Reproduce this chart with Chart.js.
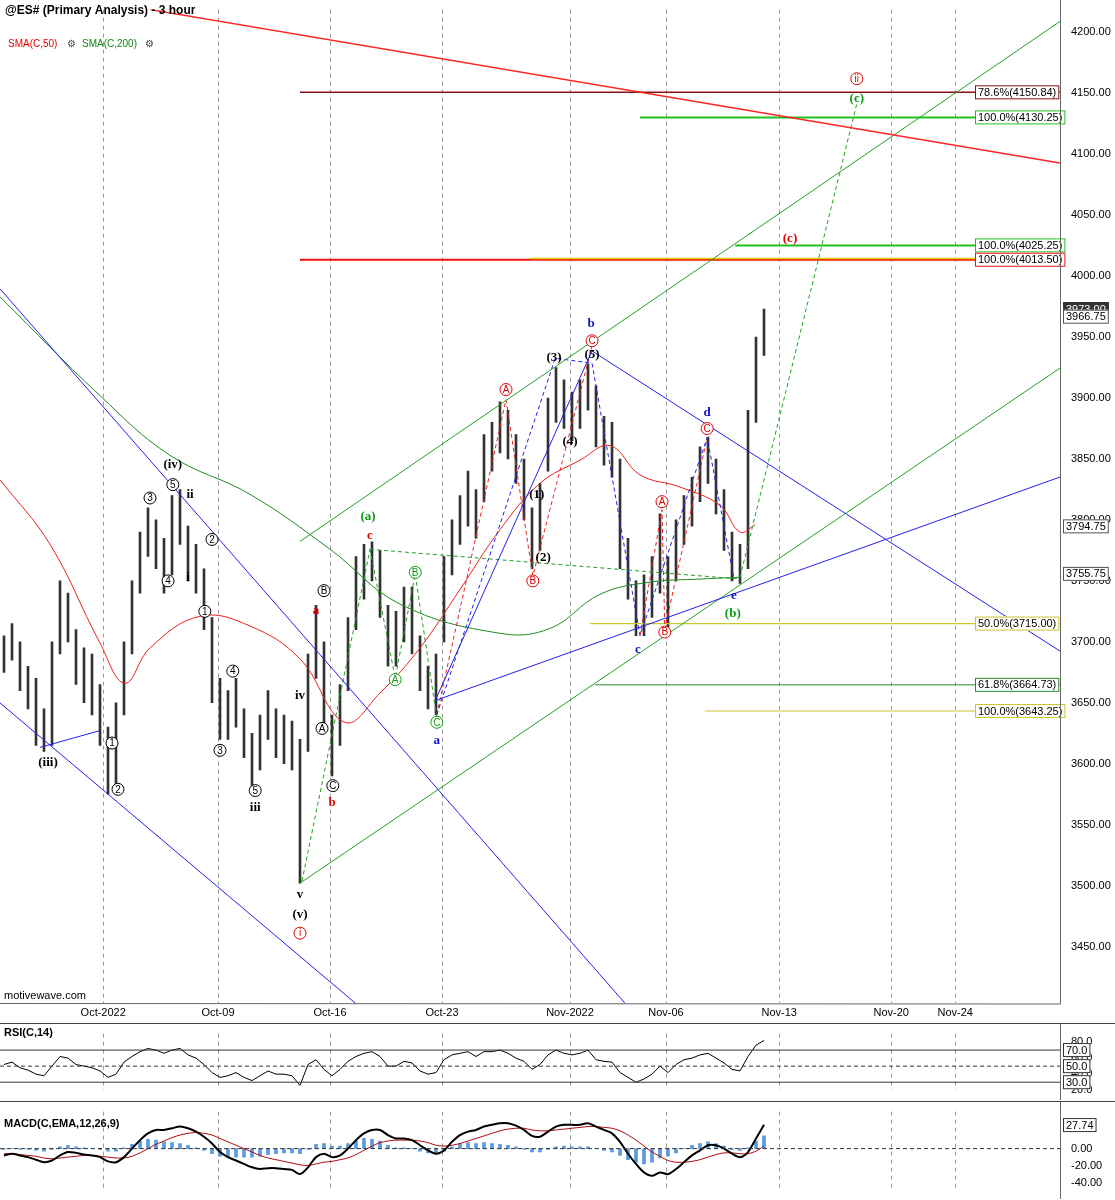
<!DOCTYPE html>
<html><head><meta charset="utf-8">
<script src="https://cdn.jsdelivr.net/npm/chart.js@4"></script>
<style>
body{margin:0;background:#fff;width:1115px;height:1200px;overflow:hidden;font-family:"Liberation Sans",Arial,sans-serif}
canvas{position:absolute;left:0}
.sep{position:absolute;left:0;width:1115px;height:1px;background:#444}
</style></head><body>
<canvas id="main" width="1115" height="1022" style="top:0"></canvas>
<div class="sep" style="top:1023px"></div>
<canvas id="rsi" width="1115" height="76" style="top:1024px"></canvas>
<div class="sep" style="top:1101px"></div>
<canvas id="macd" width="1115" height="97" style="top:1102px"></canvas>
<script>
// ---------- DATA ----------
const highs=[3705,3715,3700,3680,3670,3645,3700,3750,3740,3710,3695,3690,3665,3630,3650,3700,3750,3790,3810,3800,3785,3820,3825,3795,3780,3760,3720,3670,3660,3670,3645,3625,3640,3660,3645,3640,3635,3620,3690,3730,3700,3640,3665,3720,3770,3780,3782,3775,3730,3725,3745,3745,3705,3680,3690,3770,3800,3820,3840,3825,3870,3880,3897,3890,3870,3850,3810,3830,3900,3925,3915,3905,3915,3928,3910,3885,3880,3850,3785,3750,3755,3770,3805,3770,3800,3820,3835,3860,3868,3850,3825,3790,3780,3890,3950,3973];
const lows=[3675,3685,3660,3645,3615,3610,3615,3690,3700,3665,3650,3640,3615,3575,3575,3640,3690,3740,3770,3760,3740,3755,3780,3750,3740,3710,3650,3620,3620,3630,3605,3580,3595,3620,3605,3600,3595,3502,3610,3670,3630,3590,3615,3660,3710,3735,3750,3720,3680,3680,3700,3690,3660,3645,3640,3700,3755,3780,3795,3785,3815,3840,3855,3850,3830,3800,3760,3775,3840,3880,3875,3865,3875,3890,3860,3845,3835,3760,3735,3705,3705,3720,3740,3712,3750,3780,3795,3815,3830,3805,3775,3750,3748,3760,3880,3935];
const rsi=[52,55,48,45,40,38,50,62,60,52,50,48,44,36,40,55,62,68,72,70,66,70,72,64,60,52,42,36,38,42,36,32,38,44,40,40,38,26,52,58,46,38,46,56,62,66,68,62,50,50,56,54,44,40,42,58,64,66,68,62,68,68,70,66,60,56,46,52,64,70,66,64,66,70,58,56,55,42,36,30,34,40,50,42,52,58,60,64,66,60,54,46,44,62,76,82];
const macdLine=[-8,-6,-8,-10,-13,-16,-14,-8,-4,-5,-7,-8,-10,-15,-16,-10,0,10,18,22,22,24,26,24,20,14,6,-4,-10,-14,-18,-22,-24,-23,-23,-24,-25,-30,-22,-10,-6,-10,-8,0,10,18,22,22,16,12,12,10,4,-2,-6,-2,8,16,20,22,26,28,30,30,27,22,15,14,20,26,28,28,28,30,26,22,18,8,-6,-18,-28,-32,-28,-30,-24,-16,-8,-2,4,4,0,-6,-10,-4,12,28];
const macdSignal=[-6,-6,-7,-8,-9,-11,-12,-11,-10,-9,-8,-8,-9,-10,-11,-11,-9,-5,0,5,9,13,16,18,19,18,16,12,8,4,0,-4,-8,-11,-13,-15,-17,-19,-20,-18,-16,-15,-13,-11,-7,-2,3,7,9,10,10,10,9,7,4,3,4,6,9,12,15,18,21,23,24,24,22,21,21,22,23,24,25,26,26,25,24,21,16,10,3,-4,-9,-14,-16,-16,-15,-13,-10,-7,-5,-5,-6,-6,-3,3];
const macdHist=[-1,0,-1,-1,-2,-3,-1,2,4,2,1,0,-1,-3,-3,1,5,9,11,10,8,7,6,4,1,-2,-6,-9,-10,-10,-10,-10,-9,-7,-6,-5,-5,-6,-1,5,6,3,3,6,10,12,11,9,4,1,1,0,-3,-5,-6,-3,2,6,7,6,7,6,5,4,2,-1,-4,-4,-1,2,3,2,2,2,0,-2,-4,-8,-13,-16,-18,-16,-11,-9,-5,0,4,6,8,6,3,-1,-2,1,9,15];
const sma200=[[-0.5,3983],[12,3902],[20.75,3853],[30.75,3821],[40.75,3776],[49.5,3731],[62,3707],[68.25,3711],[74.5,3739],[80.75,3749],[87,3751.5],[92,3753]];
const sma50=[[-0.5,3833],[5.75,3780],[12,3699],[15.1,3666],[18.25,3695],[24.5,3721],[30.75,3713],[37,3686],[42.6,3634],[47,3658],[52,3695],[57,3743],[62,3792],[67,3830],[72,3849],[75.75,3861],[79.5,3837],[84.5,3827],[89.5,3812],[92,3790],[93.9,3796]];
const dateTickPos=[12.4,26.75,40.75,54.75,70.75,82.75,96.9,110.9,118.9];
const dateTickLabels=["Oct-2022","Oct-09","Oct-16","Oct-23","Nov-2022","Nov-06","Nov-13","Nov-20","Nov-24"];
const priceTicks=[3450,3500,3550,3600,3650,3700,3750,3800,3850,3900,3950,4000,4050,4100,4150,4200];
const trendLines=[
 [[[18.25,4218.7],[132,4092.8]],"#ff2020",1.5,[]],
 [[[-0.5,3989.6],[77.6,3403.7]],"#2020ee",1,[]],
 [[[-0.5,3649.9],[43.9,3403.7]],"#2020ee",1,[]],
 [[[4.5,3613.4],[12,3627.2]],"#2020ee",1,[]],
 [[[53.9,3651.8],[73.5,3938.6],[132,3692.4]],"#2020ee",1,[]],
 [[[53.9,3651.8],[132,3835.2]],"#2020ee",1,[]],
 [[[37,3782.4],[132,4209]],"#22a022",1,[]],
 [[[37,3502],[132,3924.6]],"#22a022",1,[]],
 [[[92,3753],[106.6,4141.5]],"#22a022",1,[4,3]],
 [[[37.25,3503.7],[45.75,3775.9]],"#22a022",1,[4,3]],
 [[[45.75,3775.9],[92,3751.5]],"#22a022",1,[4,3]],
 [[[45.75,3775.9],[48.9,3670.3],[51.4,3755.6],[54.1,3637.8]],"#22a022",1,[4,3]],
 [[[54.1,3640.2],[68.9,3932.7],[73.5,3928.6],[79.5,3705.2],[87.9,3867.7],[91.25,3751.5]],"#2020ee",1,[4,3]],
 [[[54.1,3640.2],[62.75,3898.6],[66.1,3754],[73.5,3942.5]],"#ee2020",1,[4,3]],
 [[[79.5,3705.2],[82.25,3808.4],[82.6,3710.9],[87.9,3867.7]],"#ee2020",1,[4,3]]
];
const levels=[
 [37,4150.84,"#8b1010",1.5,"78.6%(4150.84)"],
 [79.5,4130.25,"#20c020",2,"100.0%(4130.25)"],
 [91.4,4025.25,"#20c020",2,"100.0%(4025.25)"],
 [65.75,4014.6,"#e0d000",1.5,null],
 [37,4013.5,"#ee1010",2,"100.0%(4013.50)"],
 [73.25,3715,"#c8c830",1.2,"50.0%(3715.00)"],
 [73.9,3664.73,"#2c8a2c",1,"61.8%(3664.73)"],
 [87.6,3643.25,"#c8c830",1.2,"100.0%(3643.25)"]
];
const waves=[
 [5.5,3601,"(iii)","#000",0],[13.5,3617,"1","#000",1],[14.25,3579,"2","#000",1],[18.25,3818,"3","#000",1],
 [20.5,3750,"4","#000",1],[21.1,3829,"5","#000",1],[21.1,3845,"(iv)","#000",0],[23.25,3821,"ii","#000",0],
 [23,3753,"i","#000",0],[26,3784,"2","#000",1],[25.1,3725,"1","#000",1],[28.6,3676,"4","#000",1],
 [27,3611,"3","#000",1],[31.4,3578,"5","#000",1],[31.4,3564,"iii","#000",0],[37,3656,"iv","#000",0],
 [37,3493,"v","#000",0],[37,3476,"(v)","#000",0],[37,3461,"i","#e00000",1],
 [40,3742,"B","#000",1],[39,3726,"a","#e00000",0],[39.75,3629,"A","#000",1],[41.1,3582,"C","#000",1],[41,3568,"b","#e00000",0],
 [45.5,3803,"(a)","#119911",0],[45.75,3787,"c","#e00000",0],
 [51.4,3757,"B","#119911",1],[48.9,3669,"A","#119911",1],[54.1,3634,"C","#119911",1],[54.1,3619,"a","#1010cc",0],
 [62.75,3907,"A","#e00000",1],[66.1,3750,"B","#e00000",1],[66.6,3821,"(1)","#000",0],[67.4,3769,"(2)","#000",0],
 [68.75,3933,"(3)","#000",0],[70.75,3864,"(4)","#000",0],[73.5,3936,"(5)","#000",0],[73.5,3947,"C","#e00000",1],[73.4,3961,"b","#1010cc",0],
 [79.25,3694,"c","#1010cc",0],[82.6,3708,"B","#e00000",1],[82.25,3815,"A","#e00000",1],
 [87.9,3888,"d","#1010cc",0],[87.9,3875,"C","#e00000",1],[91.25,3738,"e","#1010cc",0],[91.1,3723,"(b)","#119911",0],
 [98.25,4031,"(c)","#e00000",0],[106.6,4162,"ii","#e00000",1],[106.6,4146,"(c)","#119911",0]
];
const axisBoxes=[[3973.00,"3973.00",1],[3966.75,"3966.75",0],[3794.75,"3794.75",0],[3755.75,"3755.75",0]];
const rsiTicks=[20,40,60,80];
const rsiBoxed=[70,50,30];
const macdTicks=[-40,-20,0];

// ---------- HELPERS ----------
Chart.defaults.font.family='"Liberation Sans", Arial, sans-serif';
Chart.defaults.font.size=11;
Chart.defaults.color='#000';
const XMIN=-0.5,XMAX=132;
function xScale(showTicks){
 return {type:'linear',min:XMIN,max:XMAX,offset:false,
  afterBuildTicks:s=>{s.ticks=dateTickPos.map(v=>({value:v}));},
  afterFit:s=>{s.height=showTicks?19:0;},
  ticks:{display:showTicks,callback:(v,i)=>dateTickLabels[i],maxRotation:0,autoSkip:false,font:{size:11},padding:3},
  grid:{color:'#999',tickLength:0,drawTicks:false,offset:false},
  border:{display:false,dash:[4,4]}};
}
function yScale(min,max,ticks,fmt){
 return {position:'right',min:min,max:max,
  afterBuildTicks:s=>{s.ticks=ticks.map(v=>({value:v}));},
  afterFit:s=>{s.width=55;},
  ticks:{callback:v=>v.toFixed(fmt),padding:3,font:{size:11}},
  grid:{display:false},border:{display:false}};
}
function pts(arr){return arr.map(p=>({x:p[0],y:p[1]}));}
function lineDS(p,color,w,dash,order){return {type:'line',data:pts(p),borderColor:color,borderWidth:w,borderDash:dash,pointRadius:0,tension:0,fill:false,order:order||0};}
function box(ctx,x,y,text,border,fill,tc){
 ctx.font='11px "Liberation Sans", Arial';
 const w=ctx.measureText(text).width+6;
 ctx.fillStyle=fill;ctx.fillRect(x,y-7,w,14);
 ctx.strokeStyle=border;ctx.lineWidth=1;ctx.strokeRect(x+.5,y-6.5,w-1,13);
 ctx.fillStyle=tc;ctx.textAlign='left';ctx.textBaseline='middle';ctx.fillText(text,x+3,y+.5);
}
const baseOpts={responsive:false,animation:false,devicePixelRatio:1,layout:{padding:0},
  plugins:{legend:{display:false},tooltip:{enabled:false}}};

// ---------- MAIN ----------
const mainDatasets=[];
trendLines.forEach(t=>mainDatasets.push(lineDS(t[0],t[1],t[2],t[3])));
levels.forEach(l=>mainDatasets.push(lineDS([[l[0],l[1]],[XMAX,l[1]]],l[2],l[3],[])));
mainDatasets.push({...lineDS(sma200,'#1e8a1e',1,[]),tension:0.4});
mainDatasets.push({...lineDS(sma50,'#ee2020',1,[]),tension:0.4});
mainDatasets.push({type:'bar',data:lows.map((l,i)=>({x:i,y:[l,highs[i]]})),backgroundColor:'#333',barThickness:2,order:1});

const mainPlugin={id:'mainDeco',afterDatasetsDraw(c){
 const ctx=c.ctx,xs=c.scales.x,ys=c.scales.y;
 ctx.save();
 waves.forEach(w=>{
  const x=xs.getPixelForValue(w[0]),y=ys.getPixelForValue(w[1]);
  ctx.textAlign='center';ctx.textBaseline='middle';
  if(w[4]){
   ctx.beginPath();ctx.arc(x,y,6,0,Math.PI*2);ctx.fillStyle='#fff';ctx.fill();
   ctx.strokeStyle=w[3];ctx.lineWidth=1;ctx.stroke();
   ctx.font='10px "Liberation Sans", Arial';ctx.fillStyle=w[3];ctx.fillText(w[2],x,y+.5);
  }else{
   ctx.font='bold 13px "Liberation Serif", serif';ctx.fillStyle=w[3];ctx.fillText(w[2],x,y);
  }
 });
 levels.forEach(l=>{ if(l[4]) box(ctx,975,ys.getPixelForValue(l[1]),l[4],l[2],'#fff','#000'); });
 axisBoxes.forEach(b=>{const y=ys.getPixelForValue(b[0]);
  if(b[2]) box(ctx,1063,y,b[1],'#333','#333','#fff'); else box(ctx,1063,y,b[1],'#555','#fff','#000');});
 ctx.textAlign='left';ctx.textBaseline='alphabetic';
 ctx.font='bold 12px "Liberation Sans", Arial';ctx.fillStyle='#000';ctx.fillText('@ES# (Primary Analysis) - 3 hour',5,14);
 ctx.font='10px "Liberation Sans", Arial';
 ctx.fillStyle='#e00000';ctx.fillText('SMA(C,50)',8,47);
 ctx.fillStyle='#444';ctx.fillText('⚙',67,47);
 ctx.fillStyle='#118811';ctx.fillText('SMA(C,200)',82,47);
 ctx.fillStyle='#444';ctx.fillText('⚙',145,47);
 ctx.fillStyle='#000';ctx.font='11px "Liberation Sans", Arial';ctx.fillText('motivewave.com',4,999);
 ctx.strokeStyle='#666';ctx.lineWidth=1;ctx.beginPath();ctx.moveTo(1060.5,0);ctx.lineTo(1060.5,1004);ctx.lineTo(0,1003.5);ctx.stroke();
 ctx.restore();
}};
new Chart(document.getElementById('main'),{data:{datasets:mainDatasets},
 options:{...baseOpts,scales:{x:xScale(true),y:yScale(3403.7,4218.7,priceTicks,2)}},
 plugins:[mainPlugin]});

// ---------- RSI ----------
new Chart(document.getElementById('rsi'),{data:{datasets:[
  lineDS([[XMIN,70],[XMAX,70]],'#333',1,[]),
  lineDS([[XMIN,50],[XMAX,50]],'#333',1,[4,3]),
  lineDS([[XMIN,30],[XMAX,30]],'#333',1,[]),
  {type:'line',data:rsi.map((v,i)=>({x:i,y:v})),borderColor:'#000',borderWidth:1,pointRadius:0,tension:0}]},
 options:{...baseOpts,scales:{x:xScale(false),y:yScale(19.8,90.5,rsiTicks,1)}},
 plugins:[{id:'rsiDeco',afterDraw(c){const ctx=c.ctx;ctx.save();
  ctx.font='bold 11px "Liberation Sans", Arial';ctx.fillStyle='#000';ctx.textAlign='left';ctx.fillText('RSI(C,14)',4,12);
  rsiBoxed.forEach(v=>{box(ctx,1063,c.scales.y.getPixelForValue(v),v.toFixed(1),'#333','#fff','#000');});
  ctx.strokeStyle='#666';ctx.beginPath();ctx.moveTo(1060.5,0);ctx.lineTo(1060.5,76);ctx.stroke();ctx.restore();}}]});

// ---------- MACD ----------
new Chart(document.getElementById('macd'),{data:{datasets:[
  lineDS([[XMIN,0],[XMAX,0]],'#333',1,[4,3]),
  {type:'line',data:macdLine.map((v,i)=>({x:i,y:v})),borderColor:'#000',borderWidth:2,pointRadius:0,tension:0.3,order:0},
  {type:'line',data:macdSignal.map((v,i)=>({x:i,y:v})),borderColor:'#b01010',borderWidth:1,pointRadius:0,tension:0.3,order:0},
  {type:'bar',data:macdHist.map((v,i)=>({x:i,y:v})),backgroundColor:'#5a9bd8',barThickness:3,order:2}]},
 options:{...baseOpts,scales:{x:xScale(false),y:yScale(-48,43.6,macdTicks,2)}},
 plugins:[{id:'macdDeco',afterDraw(c){const ctx=c.ctx;ctx.save();
  ctx.font='bold 11px "Liberation Sans", Arial';ctx.fillStyle='#000';ctx.textAlign='left';ctx.fillText('MACD(C,EMA,12,26,9)',4,25);
  box(ctx,1063,c.scales.y.getPixelForValue(27.74),'27.74','#333','#fff','#000');
  ctx.strokeStyle='#666';ctx.beginPath();ctx.moveTo(1060.5,0);ctx.lineTo(1060.5,97);ctx.stroke();ctx.restore();}}]});
</script></body></html>
